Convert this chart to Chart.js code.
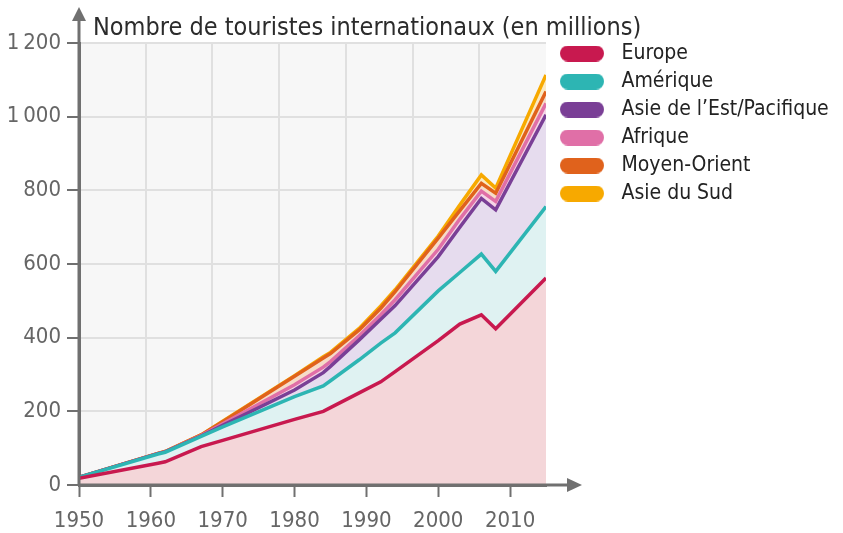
<!DOCTYPE html>
<html lang="fr">
<head>
    <meta charset="UTF-8">
    <title>Touristes internationaux</title>
    <script src="https://cdn.jsdelivr.net/npm/chart.js"></script>
    <style>
        body { margin: 0; background: #fff; }
        #wrap { width: 843px; height: 533px; }
    </style>
</head>
<body>
    <div id="wrap"><canvas id="chart" width="843" height="533"></canvas></div>

    <script>
        // données (millions de touristes par région)
        const years       = [1950, 1961, 1962, 1967, 1970, 1980, 1984, 1985, 1989, 1992, 1994, 2000, 2003, 2006, 2008, 2015];
        const europe      = [18, 59, 63, 104, 121, 178, 200, 210, 250, 280, 308, 392, 437, 462, 424, 562];
        const amerique    = [3, 25, 26, 28, 37, 62, 69, 73, 90, 105, 105, 135, 140, 165, 156, 194];
        const asieEst     = [0, 1, 1, 1, 4, 18, 36, 39, 54, 65, 74, 93, 123, 151, 167, 249];
        const afrique     = [0, 0, 0, 1, 4, 14, 15, 13, 11, 12, 16, 20, 22, 20, 23, 31];
        const moyenOrient = [0, 1, 1, 2, 6, 23, 25, 22, 16, 18, 22, 30, 23, 21, 22, 32];
        const asieSud     = [0, 0, 0, 0, 1, 2, 3, 3, 4, 6, 5, 6, 15, 23, 14, 45];

        const yTicks = [0, 200, 400, 600, 800, 1000, 1200];
        const xTicks = [1950, 1960, 1970, 1980, 1990, 2000, 2010];

        const title = 'Nombre de touristes internationaux (en millions)';
        const FONT = "'Liberation Sans Narrow', 'DejaVu Sans Condensed', 'Open Sans', sans-serif";

        // pastille arrondie pour la légende
        const pill = (color) => {
            const c = document.createElement('canvas');
            c.width = 44;
            c.height = 16;
            const g = c.getContext('2d');
            g.fillStyle = color;
            g.beginPath();
            g.roundRect(0, 0, 44, 16, 8);
            g.fill();
            return c;
        };

        const series = [
            { label: 'Europe', values: europe, line: '#c8194f', area: '#f4d6d9' },
            { label: 'Amérique', values: amerique, line: '#2db5b3', area: '#dff2f2' },
            { label: 'Asie de l\u2019Est/Pacifique', values: asieEst, line: '#7a3f96', area: '#e6dcee' },
            { label: 'Afrique', values: afrique, line: '#e06fa7', area: '#f5d6e6' },
            { label: 'Moyen-Orient', values: moyenOrient, line: '#e0621c', area: '#f6dcc8' },
            { label: 'Asie du Sud', values: asieSud, line: '#f7a900', area: '#fbeac2' }
        ];

        const datasets = series.map((s, i) => ({
            label: s.label,
            data: s.values.map((v, k) => ({ x: years[k], y: v })),
            borderColor: s.line,
            backgroundColor: s.area,
            borderWidth: 3.5,
            pointRadius: 0,
            pointStyle: pill(s.line),
            tension: 0,
            fill: i === 0 ? 'origin' : '-1'
        }));

        // fond gris, quadrillage vertical, flèches des axes, titre
        const decor = {
            id: 'decor',
            afterLayout(chart) {
                // la légende monte au niveau du titre et peut déborder jusqu'au bord
                chart.legend.top = chart.chartArea.top - 7;
                chart.legend.right = chart.width;
            },
            beforeDraw(chart) {
                const { ctx, chartArea: a } = chart;
                ctx.save();
                ctx.fillStyle = '#f7f7f7';
                ctx.fillRect(a.left, a.top, a.right - a.left, a.bottom - a.top);
                ctx.strokeStyle = '#e0e0e0';
                ctx.lineWidth = 2;
                for (let i = 1; i < 7; i++) {
                    const x = Math.round(a.left + (a.right - a.left) * i / 7);
                    ctx.beginPath();
                    ctx.moveTo(x, a.top);
                    ctx.lineTo(x, a.bottom);
                    ctx.stroke();
                }
                ctx.restore();
            },
            afterDraw(chart) {
                const { ctx, chartArea: a } = chart;
                ctx.save();
                ctx.strokeStyle = '#707070';
                ctx.fillStyle = '#707070';
                ctx.lineWidth = 3;
                ctx.beginPath();
                ctx.moveTo(a.left, a.bottom);
                ctx.lineTo(a.left, 18);
                ctx.moveTo(a.left, a.bottom);
                ctx.lineTo(a.right + 24, a.bottom);
                ctx.stroke();

                ctx.beginPath();
                ctx.moveTo(a.left, 7);
                ctx.lineTo(a.left - 7, 21);
                ctx.lineTo(a.left + 7, 21);
                ctx.closePath();
                ctx.fill();

                ctx.beginPath();
                ctx.moveTo(a.right + 36, a.bottom);
                ctx.lineTo(a.right + 21, a.bottom - 7);
                ctx.lineTo(a.right + 21, a.bottom + 7);
                ctx.closePath();
                ctx.fill();

                ctx.fillStyle = '#2b2b2b';
                ctx.font = '25px ' + FONT;
                ctx.textBaseline = 'alphabetic';
                ctx.fillText(title, a.left + 14, 35);
                ctx.restore();
            }
        };

        const ctx = document.getElementById('chart').getContext('2d');
        const chart = new Chart(ctx, {
            type: 'line',
            data: { datasets },
            options: {
                responsive: false,
                animation: false,
                // the right padding puts the chart edge at 546 (legend box is capped by the layout)
                layout: { padding: { top: 43, left: 0, bottom: 0, right: 115 } },
                plugins: {
                    legend: {
                        position: 'right',
                        align: 'start',
                        labels: {
                            usePointStyle: true,
                            pointStyleWidth: 58,
                            boxHeight: 21,
                            padding: 7,
                            color: '#222',
                            font: { family: FONT, size: 21 }
                        }
                    },
                    tooltip: { enabled: false }
                },
                scales: {
                    x: {
                        type: 'linear',
                        min: 1950,
                        max: 2015,
                        afterBuildTicks: (scale) => {
                            scale.ticks = xTicks.map(v => ({ value: v }));
                        },
                        afterFit: (scale) => { scale.height = 48; },
                        ticks: {
                            padding: 13,
                            color: '#666',
                            font: { family: FONT, size: 22, lineHeight: 1 },
                            callback: (v) => String(v)
                        },
                        grid: {
                            drawOnChartArea: false,
                            tickLength: 12,
                            tickColor: '#707070',
                            tickWidth: 2
                        },
                        border: { color: '#707070', width: 3 }
                    },
                    y: {
                        stacked: true,
                        min: 0,
                        max: 1200,
                        afterBuildTicks: (scale) => {
                            scale.ticks = yTicks.map(v => ({ value: v }));
                        },
                        afterFit: (scale) => { scale.width = 79; },
                        ticks: {
                            padding: 6,
                            color: '#666',
                            font: { family: FONT, size: 22 },
                            callback: (v) => v >= 1000 ? String(v).replace(/\B(?=(\d{3})+(?!\d))/g, '\u202f') : String(v)
                        },
                        grid: {
                            color: '#e0e0e0',
                            lineWidth: 2,
                            tickLength: 12,
                            tickColor: '#707070',
                            tickWidth: 2
                        },
                        border: { color: '#707070', width: 3 }
                    }
                }
            },
            plugins: [decor]
        });
    </script>
</body>
</html>
